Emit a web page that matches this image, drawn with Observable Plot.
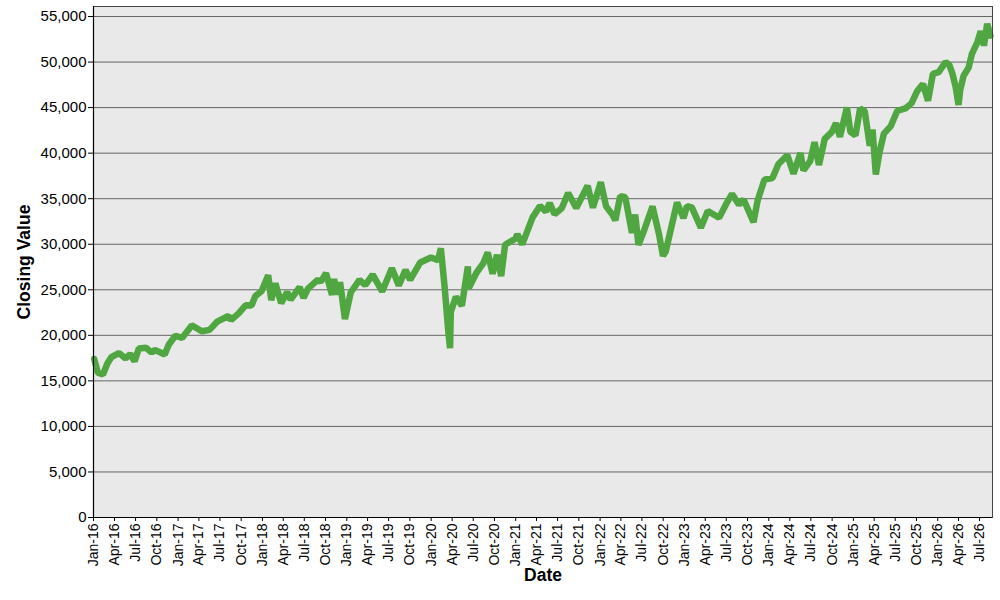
<!DOCTYPE html>
<html>
<head>
<meta charset="utf-8">
<script src="https://cdn.jsdelivr.net/npm/d3@7"></script>
<script src="https://cdn.jsdelivr.net/npm/@observablehq/plot@0.6"></script>
<style>
  html, body { margin: 0; padding: 0; background: #ffffff; }
  #chart svg { display: block; }
</style>
</head>
<body>
<div id="chart"></div>
<script>
const dates = [
  "2016-01-04","2016-01-20","2016-02-11","2016-03-01","2016-03-18","2016-04-20","2016-05-19","2016-06-08","2016-06-27","2016-07-15",
  "2016-08-15","2016-09-09","2016-09-22","2016-10-15","2016-11-04","2016-11-22","2016-12-20","2017-01-19","2017-02-15","2017-03-01",
  "2017-04-13","2017-05-17","2017-06-19","2017-08-07","2017-08-18","2017-09-20","2017-10-20","2017-11-15","2017-12-01","2017-12-28",
  "2018-01-26","2018-02-08","2018-02-26","2018-03-23","2018-04-18","2018-05-03","2018-06-11","2018-06-28","2018-07-17","2018-08-29",
  "2018-09-10","2018-10-03","2018-10-29","2018-11-07","2018-11-20","2018-12-03","2018-12-24","2019-01-18","2019-02-25","2019-03-22",
  "2019-04-23","2019-06-03","2019-07-15","2019-08-14","2019-09-12","2019-10-02","2019-11-15","2019-12-31","2020-01-31","2020-02-12",
  "2020-02-28","2020-03-16","2020-03-23","2020-03-26","2020-04-17","2020-05-13","2020-06-08","2020-06-11","2020-07-15","2020-08-14",
  "2020-09-02","2020-09-23","2020-10-12","2020-10-30","2020-11-16","2020-12-31","2021-01-08","2021-01-29","2021-03-15","2021-04-16",
  "2021-05-12","2021-05-28","2021-06-18","2021-07-19","2021-08-16","2021-09-20","2021-11-08","2021-12-01","2022-01-04","2022-01-27",
  "2022-02-24","2022-03-08","2022-03-29","2022-04-20","2022-05-19","2022-06-02","2022-06-16","2022-07-08","2022-08-16","2022-09-13",
  "2022-09-30","2022-10-12","2022-11-30","2022-12-28","2023-01-12","2023-02-02","2023-03-13","2023-04-12","2023-05-31","2023-06-30",
  "2023-07-26","2023-08-25","2023-09-14","2023-10-27","2023-11-14","2023-12-13","2024-01-17","2024-02-12","2024-03-21","2024-04-17",
  "2024-05-17","2024-05-30","2024-06-28","2024-07-17","2024-08-05","2024-08-30","2024-09-30","2024-10-18","2024-11-04","2024-12-04",
  "2024-12-19","2025-01-10","2025-01-30","2025-02-19","2025-03-13","2025-03-25","2025-04-08","2025-04-24","2025-05-13","2025-06-12",
  "2025-07-10","2025-08-14","2025-09-10","2025-10-03","2025-10-29","2025-11-20","2025-12-11","2026-01-05","2026-02-04","2026-02-20",
  "2026-03-06","2026-03-20","2026-04-01","2026-04-08","2026-04-23","2026-05-15","2026-05-29","2026-06-22","2026-07-06","2026-07-20",
  "2026-08-03","2026-08-17"
];
const closes = [
  17400,15900,15700,16900,17600,18050,17450,17950,17150,18550,
  18640,18100,18390,18140,17890,19000,19950,19730,20600,21100,
  20450,20600,21500,22120,21670,22410,23300,23270,24300,24840,
  26600,23860,25700,23530,24750,23930,25300,24120,25120,26120,
  25860,26830,24440,26180,24470,25830,21790,24700,26090,25500,
  26660,24820,27360,25480,27180,26080,28000,28540,28260,29550,
  25400,20190,18590,22550,24240,23250,27570,25130,26870,27930,
  29100,26760,28840,26500,29950,30610,31100,29980,32950,34200,
  33590,34530,33290,33960,35620,33970,36430,34020,36800,34160,
  33220,32630,35290,35160,31250,33250,29930,31340,34150,31100,
  28730,29210,34590,32880,34190,34050,31820,33650,32910,34400,
  35520,34350,34910,32420,34830,37090,37270,38800,39780,37750,
  40000,38110,39120,41200,38700,41560,42330,43280,41790,45010,
  42340,41940,44880,44630,40810,42590,37650,40090,42140,42970,
  44650,44910,45490,46760,47600,45750,48700,48900,50000,49700,
  48700,47200,45300,46900,48500,49400,50900,52200,53400,51800,
  54200,52900
];
const yTicks = [0, 5000, 10000, 15000, 20000, 25000, 30000, 35000, 40000, 45000, 50000, 55000];
const xTitle = "Date";
const yTitle = "Closing Value";
const xStart = new Date("2016-01-01");
const xEnd = new Date("2026-08-26");

const data = dates.map((d, i) => ({date: new Date(d), close: closes[i]}));

const chart = Plot.plot({
  width: 1000,
  height: 600,
  marginLeft: 93,
  marginRight: 8,
  marginTop: 6,
  marginBottom: 83,
  style: {fontFamily: "'Liberation Sans', Arial, sans-serif", fontSize: "14px", color: "#000", background: "#ffffff"},
  x: {type: "utc", domain: [xStart, xEnd]},
  y: {domain: [0, 56100]},
  marks: [
    Plot.frame({fill: "#e9e9e9", stroke: null}),
    Plot.gridY(yTicks.filter(v => v > 0), {stroke: "#666666", strokeOpacity: 1, strokeWidth: 1}),
    Plot.line(data, {x: "date", y: "close", stroke: "#50a640", strokeWidth: 6.5, strokeLinejoin: "miter"}),
    Plot.frame({stroke: "#444444", fill: null}),
    Plot.ruleY([0], {stroke: "#000000", strokeWidth: 1.2}),
    Plot.ruleX([xStart], {stroke: "#000000", strokeWidth: 1.2}),
    Plot.axisY(yTicks, {tickFormat: d3.format(","), tickSize: 5, tickPadding: 2, fontSize: 15, label: null}),
    Plot.axisX({ticks: d3.utcMonth.every(3), tickFormat: d3.utcFormat("%b-%y"), tickRotate: -90,
      tickSize: 4, tickPadding: 2, fontSize: 14, label: null}),
    Plot.text([yTitle], {frameAnchor: "left", textAnchor: "middle", lineAnchor: "middle", dx: -69.5, rotate: -90,
      fontSize: 17.5, fontWeight: "bold", fill: "#000"}),
    Plot.text([xTitle], {frameAnchor: "bottom", textAnchor: "middle", lineAnchor: "middle", dy: 58,
      fontSize: 17.5, fontWeight: "bold", fill: "#000"})
  ]
});
document.getElementById("chart").appendChild(chart);
</script>
</body>
</html>
